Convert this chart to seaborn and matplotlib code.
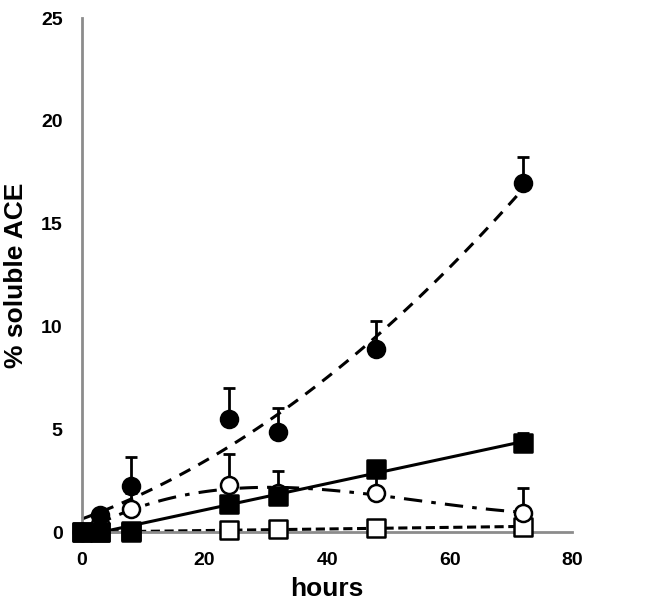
import numpy as np
import pandas as pd
import matplotlib
matplotlib.use("Agg")
import matplotlib.pyplot as plt
import seaborn as sns

sns.set_style("white")
plt.rcParams["font.family"] = ["Liberation Sans", "DejaVu Sans"]
plt.rcParams["font.weight"] = "bold"
plt.rcParams["text.color"] = "black"
plt.rcParams["axes.labelcolor"] = "black"

# ------------------------
# DATA
# ------------------------
hours = [0, 3, 8, 24, 32, 48, 72]

filled_circle = [0.0, 0.85, 2.25, 5.5, 4.85, 8.9, 17.0]
filled_circle_err = [0, 0, 1.4, 1.5, 1.2, 1.35, 1.25]

filled_square = [0.0, 0.0, 0.05, 1.35, 1.75, 3.05, 4.35]
filled_square_err = [0, 0, 0, 0, 1.2, 0, 0.45]

open_circle = [0.0, 0.4, 1.1, 2.3, 1.9, 1.9, 0.95]
open_circle_err = [0, 0, 0.8, 1.5, 0, 1.1, 1.2]

open_square = [0.0, 0.0, 0.0, 0.1, 0.15, 0.2, 0.25]
open_square_err = [0, 0, 0, 0, 0.15, 0.15, 0.15]

# series: values, errors, marker, fill, trend order, line style
series = [
    (open_square, open_square_err, "s", "white", 1, (0, (3, 1.5))),
    (open_circle, open_circle_err, "o", "white", 3, (0, (6, 3, 1.5, 3))),
    (filled_square, filled_square_err, "s", "black", 1, "-"),
    (filled_circle, filled_circle_err, "o", "black", 2, (0, (4, 3))),
]

fig = plt.figure(figsize=(6.67, 6.06), dpi=100)
ax = fig.add_axes([0.123, 0.122, 0.735, 0.848])

for vals, errs, mk, fc, order, ls in series:
    df = pd.DataFrame({"hours": hours, "val": vals})
    # trend line
    sns.regplot(data=df, x="hours", y="val", order=order, ci=None,
                scatter=False, ax=ax,
                line_kws={"color": "black", "lw": 2.2, "linestyle": ls})
    # upper error bars
    ax.errorbar(hours, vals, yerr=[np.zeros(len(errs)), errs], fmt="none",
                ecolor="black", elinewidth=2, capsize=4.5, capthick=2, zorder=3)
    # markers
    sns.scatterplot(data=df, x="hours", y="val", marker=mk, s=150,
                    color=fc, edgecolor="black", linewidth=1.8, ax=ax,
                    zorder=4)

ax.set_xlim(0, 80)
ax.set_ylim(0, 25)
ax.set_xticks([0, 20, 40, 60, 80])
ax.set_yticks([0, 5, 10, 15, 20, 25])
ax.set_xlabel("hours", fontsize=19, fontweight="bold", labelpad=6)
ax.set_ylabel("% soluble ACE", fontsize=19, fontweight="bold", labelpad=9)
ax.tick_params(axis="both", labelsize=14, colors="#8c8c8c", length=4,
               width=1.5, labelcolor="black", direction="out")
ax.tick_params(axis="x", pad=10)
ax.tick_params(axis="y", pad=10)
for lab in ax.get_xticklabels() + ax.get_yticklabels():
    lab.set_fontweight("bold")

sns.despine(ax=ax)
for side in ["left", "bottom"]:
    ax.spines[side].set_color("#8c8c8c")
    ax.spines[side].set_linewidth(2)
    ax.spines[side].set_clip_on(False)
for c in ax.collections + ax.lines:
    c.set_clip_on(False)

fig.savefig("out.png", dpi=100)
